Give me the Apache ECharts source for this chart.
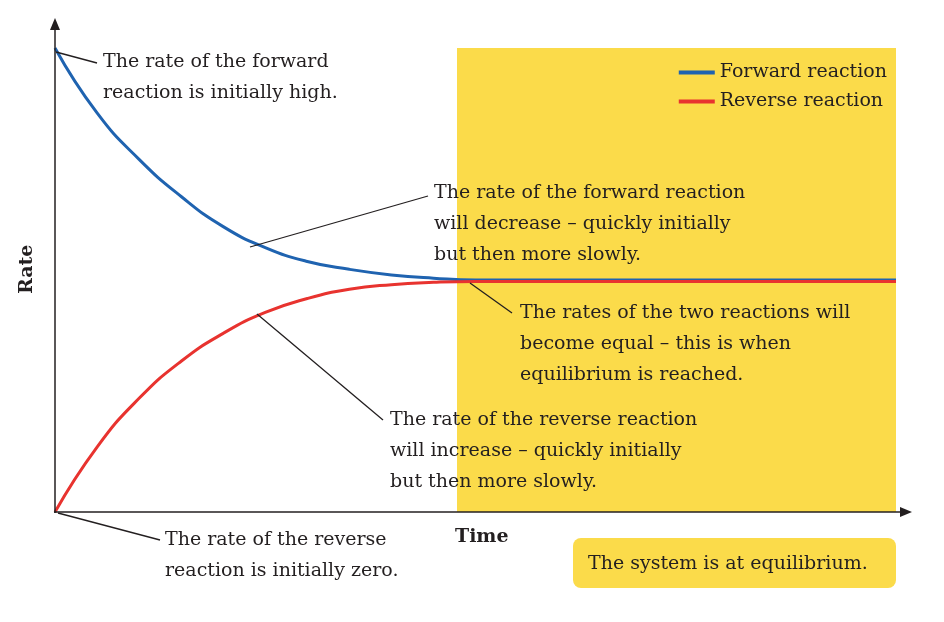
<!DOCTYPE html>
<html><head><meta charset="utf-8">
<script src="https://cdn.jsdelivr.net/npm/echarts@6/dist/echarts.min.js"></script>
<style>html,body{margin:0;padding:0;background:#fff}#c{width:944px;height:622px}</style>
</head><body><div id="c"></div>
<script>
const times = [0,5,10,15,20,25,30,35,40,45,50,55,60,65,70,75,80,85,90,95,100];
const forward = [100,86,76,68,61.5,57,54,52.3,51.1,50.4,50,50,50,50,50,50,50,50,50,50,50];
const reverse = [0,14,24.5,32.5,38.5,43,46,48,49,49.5,49.7,49.7,49.7,49.7,49.7,49.7,49.7,49.7,49.7,49.7,49.7];
const eqStart = 47.8;
const seriesNames = ['Forward reaction','Reverse reaction'];
const F = 'DejaVu Serif';
const BLUE = '#1f63b0', RED = '#e8332f', YEL = '#fbdb4a';
const chart = echarts.init(document.getElementById('c'));
function txt(x,y,t,extra){return Object.assign({type:'text',x:x,y:y,z:100,style:{text:t,font:'19px "'+F+'"',fill:'#231f20',lineHeight:31}},extra||{});}
function ln(x1,y1,x2,y2){return {type:'line',z:100,shape:{x1,y1,x2,y2},style:{stroke:'#231f20',lineWidth:1.3}};}
chart.setOption({
  animation:false,
  grid:{left:55,right:48,top:48,bottom:110},
  xAxis:{type:'value',min:0,max:100,show:false},
  yAxis:{type:'value',min:0,max:100,show:false},
  legend:{orient:'vertical',right:52,top:58,itemGap:10,icon:'rect',itemWidth:36,itemHeight:4,
    textStyle:{fontFamily:F,fontSize:19,color:'#231f20'},data:seriesNames},
  series:[
    {name:seriesNames[0],type:'line',showSymbol:false,smooth:true,lineStyle:{color:BLUE,width:3},itemStyle:{color:BLUE},
     data:times.map((t,i)=>[t,forward[i]]),z:3,
     markArea:{silent:true,z:1,itemStyle:{color:YEL},data:[[{xAxis:eqStart,yAxis:0},{xAxis:100,yAxis:100}]]}},
    {name:seriesNames[1],type:'line',showSymbol:false,smooth:true,lineStyle:{color:RED,width:3},itemStyle:{color:RED},
     data:times.map((t,i)=>[t,reverse[i]]),z:3}
  ],
  graphic:[
    {type:'line',z:100,shape:{x1:55,y1:513,x2:55,y2:26},style:{stroke:'#231f20',lineWidth:1.5}},
    {type:'polygon',z:100,shape:{points:[[55,18],[50,30],[60,30]]},style:{fill:'#231f20'}},
    {type:'line',z:100,shape:{x1:54,y1:512,x2:902,y2:512},style:{stroke:'#231f20',lineWidth:1.5}},
    {type:'polygon',z:100,shape:{points:[[912,512],[900,507],[900,517]]},style:{fill:'#231f20'}},
    txt(18,294,'Rate',{rotation:Math.PI/2,style:{text:'Rate',font:'bold 19px "'+F+'"',fill:'#231f20'}}),
    txt(455,528,'Time',{style:{text:'Time',font:'bold 19px "'+F+'"',fill:'#231f20'}}),
    {type:'rect',z:90,shape:{x:573,y:538,width:323,height:50,r:8},style:{fill:YEL}},
    txt(588,549,'The system is at equilibrium.'),
    ln(56,52,97,63), txt(103,47,'The rate of the forward\nreaction is initially high.'),
    ln(250,247,428,196), txt(434,178,'The rate of the forward reaction\nwill decrease – quickly initially\nbut then more slowly.'),
    ln(470,283,512,313), txt(520,298,'The rates of the two reactions will\nbecome equal – this is when\nequilibrium is reached.'),
    ln(257,314,383,420), txt(390,405,'The rate of the reverse reaction\nwill increase – quickly initially\nbut then more slowly.'),
    ln(58,513,160,540), txt(165,525,'The rate of the reverse\nreaction is initially zero.')
  ]
});
</script></body></html>
